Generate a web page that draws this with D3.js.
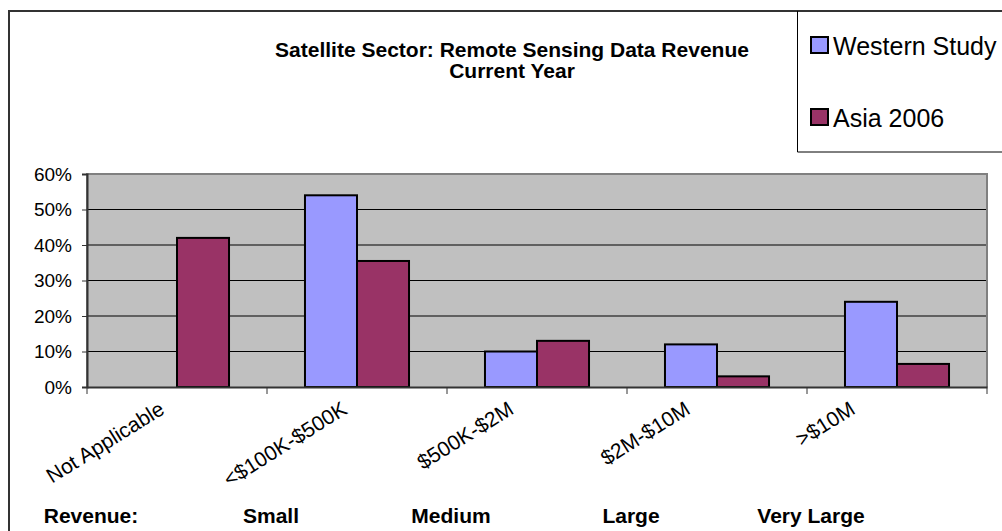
<!DOCTYPE html>
<html lang="en">
<head>
<meta charset="utf-8">
<title>Satellite Sector</title>
<script src="https://d3js.org/d3.v7.min.js"></script>
<style>
  body { margin: 0; background: #fff; }
  svg text { font-family: Arial, "Liberation Sans", sans-serif; fill: #000; }
</style>
</head>
<body>
<div class="chart"></div>
<script>
// data
const categories = ["Not Applicable", "<$100K-$500K", "$500K-$2M", "$2M-$10M", ">$10M"];
const seriesNames = ["Western Study", "Asia 2006"];
const western = [null, 54, 10, 12, 24];
const asia = [42, 35.5, 13, 3, 6.5];
const yTicks = [0, 10, 20, 30, 40, 50, 60];
const sizeLabels = ["Revenue:", "Small", "Medium", "Large", "Very Large"];
const titleLines = ["Satellite Sector: Remote Sensing Data Revenue", "Current Year"];
const colors = ["#9999ff", "#993366"];

const width = 1002, height = 531;
const plot = {left: 87, right: 987, top: 174, bottom: 387};

const svg = d3.select(".chart").append("svg")
    .attr("width", width)
    .attr("height", height);

// outer chart border (cut off on right and bottom)
svg.append("path")
    .attr("d", `M9,${height + 5} V11 H${width + 5}`)
    .attr("fill", "none")
    .attr("stroke", "#333")
    .attr("stroke-width", 2);

const x = d3.scaleBand().domain(categories).range([plot.left, plot.right]);
const x1 = d3.scaleBand().domain(seriesNames).range([0, x.bandwidth()]).paddingOuter(0.73);
const y = d3.scaleLinear().domain([0, 60]).range([plot.bottom, plot.top]);

// plot area
svg.append("rect")
    .attr("x", plot.left).attr("y", plot.top)
    .attr("width", plot.right - plot.left).attr("height", plot.bottom - plot.top)
    .attr("fill", "#c0c0c0");

// gridlines
svg.append("g")
    .selectAll("line")
    .data(yTicks.filter(t => t > 0 && t < 60))
    .join("line")
    .attr("x1", plot.left).attr("x2", plot.right)
    .attr("y1", d => y(d)).attr("y2", d => y(d))
    .attr("stroke", "#000").attr("stroke-width", 1);

// plot border
svg.append("path")
    .attr("d", `M${plot.left},${plot.bottom} V${plot.top} H${plot.right} V${plot.bottom}`)
    .attr("fill", "none")
    .attr("stroke", "#808080")
    .attr("stroke-width", 2);

// bars
const rows = categories.map((c, i) => ({cat: c, vals: [western[i], asia[i]]}));
const groups = svg.append("g").selectAll("g")
    .data(rows)
    .join("g")
    .attr("transform", d => `translate(${x(d.cat)},0)`);

groups.selectAll("rect")
    .data(d => d.vals.map((v, j) => ({s: seriesNames[j], v: v, j: j})).filter(e => e.v != null))
    .join("rect")
    .attr("x", d => x1(d.s))
    .attr("y", d => y(d.v))
    .attr("width", x1.bandwidth())
    .attr("height", d => y(0) - y(d.v))
    .attr("fill", d => colors[d.j])
    .attr("stroke", "#000")
    .attr("stroke-width", 2);

// y axis
const yAxis = svg.append("g")
    .attr("transform", `translate(${plot.left},0)`)
    .call(d3.axisLeft(y).tickValues(yTicks).tickFormat(d => d + "%").tickSize(5).tickPadding(10));
yAxis.select(".domain").attr("stroke", "#333").attr("stroke-width", 2);
yAxis.selectAll(".tick line").attr("stroke", "#333");
yAxis.selectAll("text").attr("font-size", 19).attr("font-family", "Arial, 'Liberation Sans', sans-serif");

// x axis
const xAxis = svg.append("g")
    .attr("transform", `translate(0,${plot.bottom})`)
    .call(d3.axisBottom(x).tickSize(0).tickFormat(""));
xAxis.select(".domain").attr("stroke", "#333").attr("stroke-width", 2);

// x ticks at category boundaries
svg.append("g")
    .selectAll("line")
    .data(categories.concat(["end"]))
    .join("line")
    .attr("x1", (d, i) => i < categories.length ? x(d) : plot.right)
    .attr("x2", (d, i) => i < categories.length ? x(d) : plot.right)
    .attr("y1", plot.bottom).attr("y2", plot.bottom + 7)
    .attr("stroke", "#333");

// rotated category labels: rotated box centred left of the band centre, tops aligned
const ang = 32 * Math.PI / 180;
const catLabels = svg.append("g")
    .selectAll("text")
    .data(categories)
    .join("text")
    .attr("text-anchor", "middle")
    .attr("font-size", 21)
    .text(d => d);
catLabels.attr("transform", function(d) {
    const L = this.getComputedTextLength();
    const cx = x(d) + x.bandwidth() / 2 - 68;
    const cy = 400 + (L / 2) * Math.sin(ang) + 15 * Math.cos(ang);
    return `translate(${cx},${cy}) rotate(-32)`;
});

// size labels along the bottom
svg.append("g")
    .selectAll("text")
    .data(sizeLabels)
    .join("text")
    .attr("x", (d, i) => x(categories[i]) + 4)
    .attr("y", 523)
    .attr("text-anchor", "middle")
    .attr("font-size", 21)
    .attr("font-weight", "bold")
    .text(d => d);

// title
svg.append("g")
    .selectAll("text")
    .data(titleLines)
    .join("text")
    .attr("x", 512)
    .attr("y", (d, i) => 57 + i * 21)
    .attr("text-anchor", "middle")
    .attr("font-size", 21)
    .attr("font-weight", "bold")
    .text(d => d);

// legend
svg.append("path")
    .attr("d", `M${width + 5},152 H797.5 V11`)
    .attr("fill", "none")
    .attr("stroke", "#000")
    .attr("stroke-width", 1);

const legend = svg.append("g").selectAll("g")
    .data(seriesNames)
    .join("g")
    .attr("transform", (d, i) => `translate(811,${37 + i * 72})`);

legend.append("rect")
    .attr("width", 17).attr("height", 16)
    .attr("fill", (d, i) => colors[i])
    .attr("stroke", "#000").attr("stroke-width", 2);

legend.append("text")
    .attr("x", 22).attr("y", 18)
    .attr("font-size", 25)
    .text(d => d);
</script>
</body>
</html>
